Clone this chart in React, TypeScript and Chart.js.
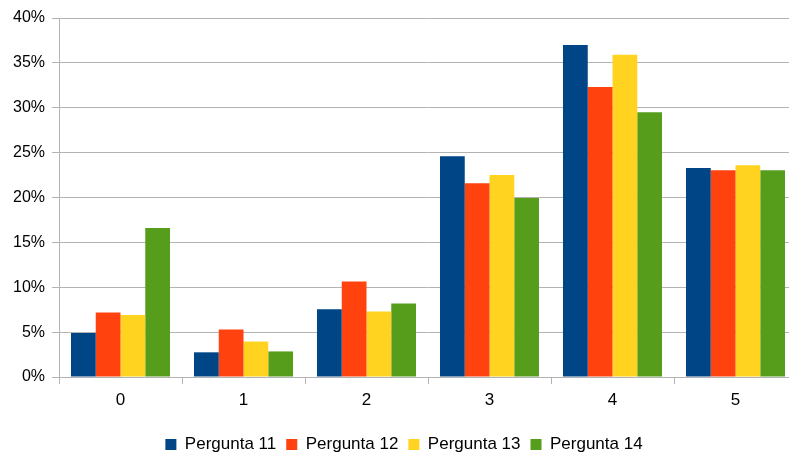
import React, { useEffect, useRef } from "react";
import { Chart, registerables } from "chart.js";

Chart.register(...registerables);

const categories = ["0", "1", "2", "3", "4", "5"];
const pergunta11 = [4.9, 2.75, 7.55, 24.6, 37.0, 23.3];
const pergunta12 = [7.2, 5.3, 10.65, 21.6, 32.3, 23.05];
const pergunta13 = [6.9, 3.95, 7.3, 22.5, 35.9, 23.6];
const pergunta14 = [16.6, 2.85, 8.2, 19.95, 29.5, 23.05];
const seriesNames = ["Pergunta 11", "Pergunta 12", "Pergunta 13", "Pergunta 14"];
const seriesColors = ["#004586", "#ff420e", "#ffd320", "#579d1c"];

export default function App() {
  const ref = useRef<HTMLCanvasElement | null>(null);

  useEffect(() => {
    if (!ref.current) return;
    const gridColor = "#b3b3b3";
    const font = "'Liberation Sans', Arial, sans-serif";
    const data = [pergunta11, pergunta12, pergunta13, pergunta14];
    const chart = new Chart(ref.current, {
      type: "bar",
      data: {
        labels: categories,
        datasets: data.map((d, i) => ({
          label: seriesNames[i],
          data: d,
          backgroundColor: seriesColors[i],
          borderWidth: 0,
          categoryPercentage: 0.805,
          barPercentage: 1,
        })),
      },
      options: {
        responsive: false,
        animation: false,
        layout: { padding: { top: 18, left: 11, right: 3, bottom: 0 } },
        plugins: {
          legend: {
            position: "bottom",
            labels: {
              boxWidth: 11,
              boxHeight: 11,
              padding: 10,
              color: "#000",
              font: { family: font, size: 17 },
            },
          },
          tooltip: { enabled: false },
        },
        scales: {
          x: {
            offset: true,
            grid: {
              drawOnChartArea: false,
              drawTicks: true,
              tickLength: 7,
              color: gridColor,
              offset: true,
            },
            border: { color: gridColor },
            ticks: {
              color: "#000",
              padding: 6,
              font: { family: font, size: 17 },
            },
            afterFit: (scale: any) => {
              scale.height = 49;
            },
          },
          y: {
            min: 0,
            max: 40,
            grid: {
              color: gridColor,
              tickLength: 7,
            },
            border: { color: gridColor },
            ticks: {
              stepSize: 5,
              color: "#000",
              padding: 7,
              font: { family: font, size: 16 },
              callback: (v: any) => `${v}%`,
            },
            afterFit: (scale: any) => {
              scale.width = 48;
            },
          },
        },
      },
    });
    return () => chart.destroy();
  }, []);

  return (
    <div
      style={{
        position: "fixed",
        left: 0,
        top: 0,
        width: 789,
        height: 452,
        overflow: "hidden",
        background: "#fff",
      }}
    >
      <canvas ref={ref} width={800} height={463} style={{ display: "block" }} />
    </div>
  );
}
